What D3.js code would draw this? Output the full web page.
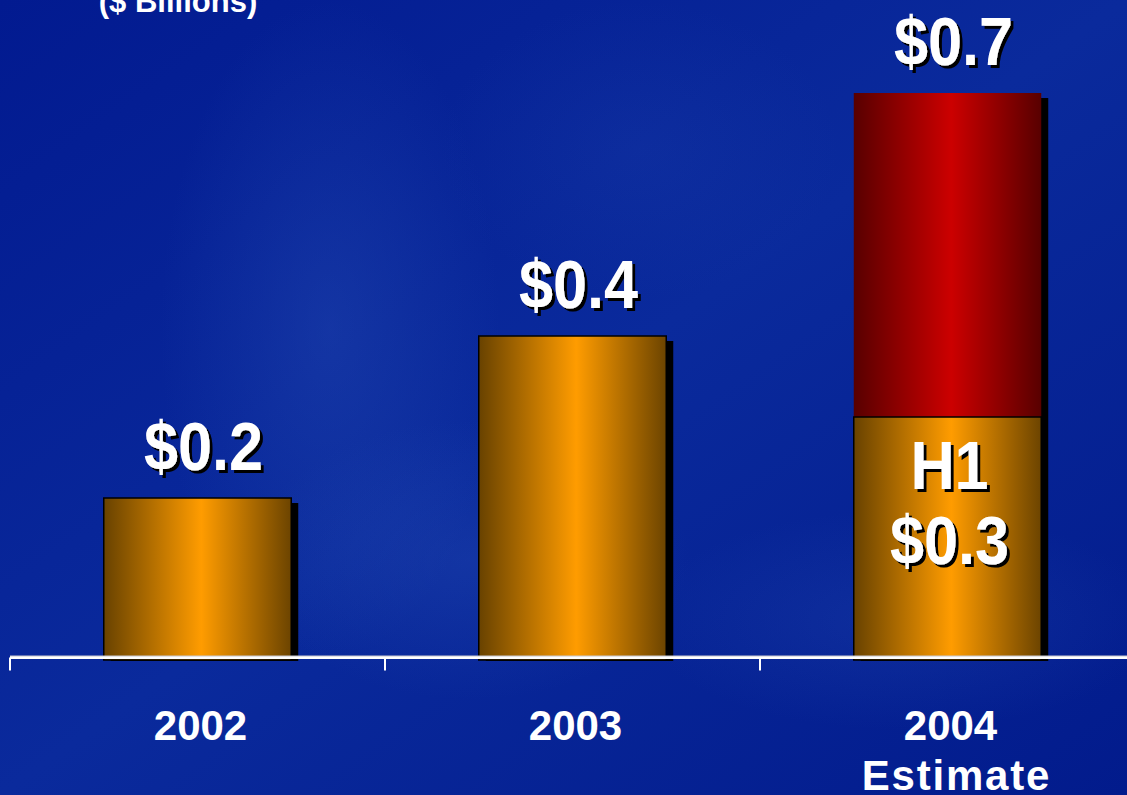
<!DOCTYPE html>
<html>
<head>
<meta charset="utf-8">
<script src="https://cdn.jsdelivr.net/npm/d3@7/dist/d3.min.js"></script>
<style>
  html, body { margin: 0; padding: 0; background: #02198f; overflow: hidden; }
  svg { display: block; }
  text { font-family: "Liberation Sans", Arial, sans-serif; font-weight: bold; }
</style>
</head>
<body>
<svg id="chart" width="1127" height="795"></svg>
<script>
// Revenue by year ($ billions); 2004 split into first half and full-year estimate
const categories = ["2002", "2003", "2004"];
const categoryLines = [["2002"], ["2003"], ["2004", "Estimate"]];
const firstHalf = [0.2, 0.4, 0.3];
const totals = [0.2, 0.4, 0.7];
const totalLabels = ["$0.2", "$0.4", "$0.7"];
const innerLabel = ["H1", "$0.3"];
const unitTitle = "($ Billions)";

const W = 1127, H = 795;
const svg = d3.select("#chart");
const defs = svg.append("defs");

// Background: deep blue with soft lighter haze
defs.append("linearGradient").attr("id", "bg").attr("x1", 0).attr("y1", 0).attr("x2", 1).attr("y2", 1)
  .selectAll("stop").data([["0%", "#021a90"], ["50%", "#0a2a9c"], ["100%", "#021b8c"]])
  .join("stop").attr("offset", d => d[0]).attr("stop-color", d => d[1]);
svg.append("rect").attr("width", W).attr("height", H).attr("fill", "url(#bg)");

const hazes = [
  {cx: 330, cy: 330, rx: 170, ry: 330, o: 0.35},
  {cx: 470, cy: 560, rx: 220, ry: 140, o: 0.3},
  {cx: 900, cy: 620, rx: 260, ry: 110, o: 0.25},
  {cx: 640, cy: 150, rx: 200, ry: 150, o: 0.15}
];
const hz = defs.append("radialGradient").attr("id", "haze");
hz.append("stop").attr("offset", "0%").attr("stop-color", "#2a52b8").attr("stop-opacity", 1);
hz.append("stop").attr("offset", "100%").attr("stop-color", "#2a52b8").attr("stop-opacity", 0);
svg.append("g").selectAll("ellipse").data(hazes).join("ellipse")
  .attr("cx", d => d.cx).attr("cy", d => d.cy).attr("rx", d => d.rx).attr("ry", d => d.ry)
  .attr("fill", "url(#haze)").attr("opacity", d => d.o);

// Hard black drop shadow for the big value labels
const f = defs.append("filter").attr("id", "txtShadow")
  .attr("x", "-10%").attr("y", "-10%").attr("width", "130%").attr("height", "130%");
f.append("feFlood").attr("flood-color", "#000").attr("result", "ink");
f.append("feComposite").attr("in", "ink").attr("in2", "SourceAlpha").attr("operator", "in").attr("result", "sil");
f.append("feOffset").attr("in", "sil").attr("dx", 3).attr("dy", 3).attr("result", "off");
const fm = f.append("feMerge");
fm.append("feMergeNode").attr("in", "off");
fm.append("feMergeNode").attr("in", "SourceGraphic");

// Cylinder-like horizontal shading for the bars
function shade(id, edgeL, mid, edgeR) {
  const g = defs.append("linearGradient").attr("id", id).attr("x1", 0).attr("x2", 1).attr("y1", 0).attr("y2", 0);
  [[0, edgeL], [0.52, mid], [1, edgeR]].forEach(s =>
    g.append("stop").attr("offset", s[0]).attr("stop-color", s[1]));
}
shade("orange", "#684200", "#ff9c00", "#6c4400");
shade("red", "#580000", "#cc0000", "#580000");

// Scales
const x = d3.scaleBand().domain(categories).range([10, 1135]).paddingInner(0.5).paddingOuter(0.25);
const y = d3.scaleLinear().domain([0, 0.7]).range([660, 93]);
const axisY = 657.5;
const shadowDx = 7, shadowDy = 5;

const bars = categories.map((c, i) => ({c, i, h1: firstHalf[i], total: totals[i]}));

// Drop shadows behind the bars
svg.append("g").selectAll("rect").data(bars).join("rect")
  .attr("x", d => x(d.c) + shadowDx).attr("y", d => y(d.total) + shadowDy)
  .attr("width", x.bandwidth()).attr("height", d => y(0) - y(d.total) - shadowDy + 1)
  .attr("fill", "#000");

// Second-half (estimate) segment
svg.append("g").selectAll("rect").data(bars.filter(d => d.total > d.h1)).join("rect")
  .attr("x", d => x(d.c)).attr("y", d => y(d.total))
  .attr("width", x.bandwidth()).attr("height", d => y(d.h1) - y(d.total))
  .attr("fill", "url(#red)");

// First-half / full-year bars
svg.append("g").selectAll("rect").data(bars).join("rect")
  .attr("x", d => x(d.c)).attr("y", d => y(d.h1))
  .attr("width", x.bandwidth()).attr("height", d => y(0) - y(d.h1))
  .attr("fill", "url(#orange)")
  .attr("stroke", "#000").attr("stroke-width", 1.5);

// Axis line and category boundary ticks
const bounds = categories.map(c => x(c) + x.bandwidth() / 2 - x.step() / 2);
bounds.push(x(categories[categories.length - 1]) + x.bandwidth() / 2 + x.step() / 2);
svg.append("line").attr("x1", bounds[0]).attr("x2", W).attr("y1", axisY).attr("y2", axisY)
  .attr("stroke", "#fff").attr("stroke-width", 3);
svg.append("line").attr("x1", bounds[0]).attr("x2", W).attr("y1", axisY - 1.5).attr("y2", axisY - 1.5)
  .attr("stroke", "#c8c8d0").attr("stroke-width", 1);
svg.append("g").selectAll("line").data(bounds).join("line")
  .attr("x1", d => d).attr("x2", d => d).attr("y1", axisY).attr("y2", axisY + 13)
  .attr("stroke", "#fff").attr("stroke-width", 2);

// Category labels
const catG = svg.append("g").selectAll("text").data(categoryLines).join("text")
  .attr("x", (d, i) => x(categories[i]) + x.bandwidth() / 2 + 3)
  .attr("y", 740)
  .attr("text-anchor", "middle").attr("fill", "#fff").attr("font-size", 42);
catG.selectAll("tspan").data(d => d).join("tspan")
  .attr("x", function(d, j) { return +this.parentNode.getAttribute("x") + (j === 0 ? 0 : 6); })
  .attr("dy", (d, j) => j === 0 ? 0 : 50)
  .attr("letter-spacing", (d, j) => j === 0 ? 0 : 1.8)
  .text(d => d);

// Tall white value label with a hard shadow, slightly condensed
function valueText(g, tx, ty, str) {
  g.append("text")
    .attr("transform", `translate(${tx},${ty}) scale(0.9,1)`)
    .attr("text-anchor", "middle").attr("font-size", 68)
    .attr("fill", "#fff").attr("filter", "url(#txtShadow)")
    .text(str);
}

const labelG = svg.append("g");
bars.forEach((d, i) => {
  valueText(labelG, x(d.c) + x.bandwidth() / 2 + 6, y(d.total) - 28, totalLabels[i]);
});

// Inner label on the 2004 first-half segment
const last = bars[bars.length - 1];
const cx = x(last.c) + x.bandwidth() / 2 + 2;
valueText(labelG, cx, y(last.h1) + 72, innerLabel[0]);
valueText(labelG, cx, y(last.h1) + 147, innerLabel[1]);

// Unit title (runs off the top edge)
svg.append("text").attr("x", 178).attr("y", 12).attr("text-anchor", "middle")
  .attr("fill", "#fff").attr("font-size", 31).text(unitTitle);
</script>
</body>
</html>
